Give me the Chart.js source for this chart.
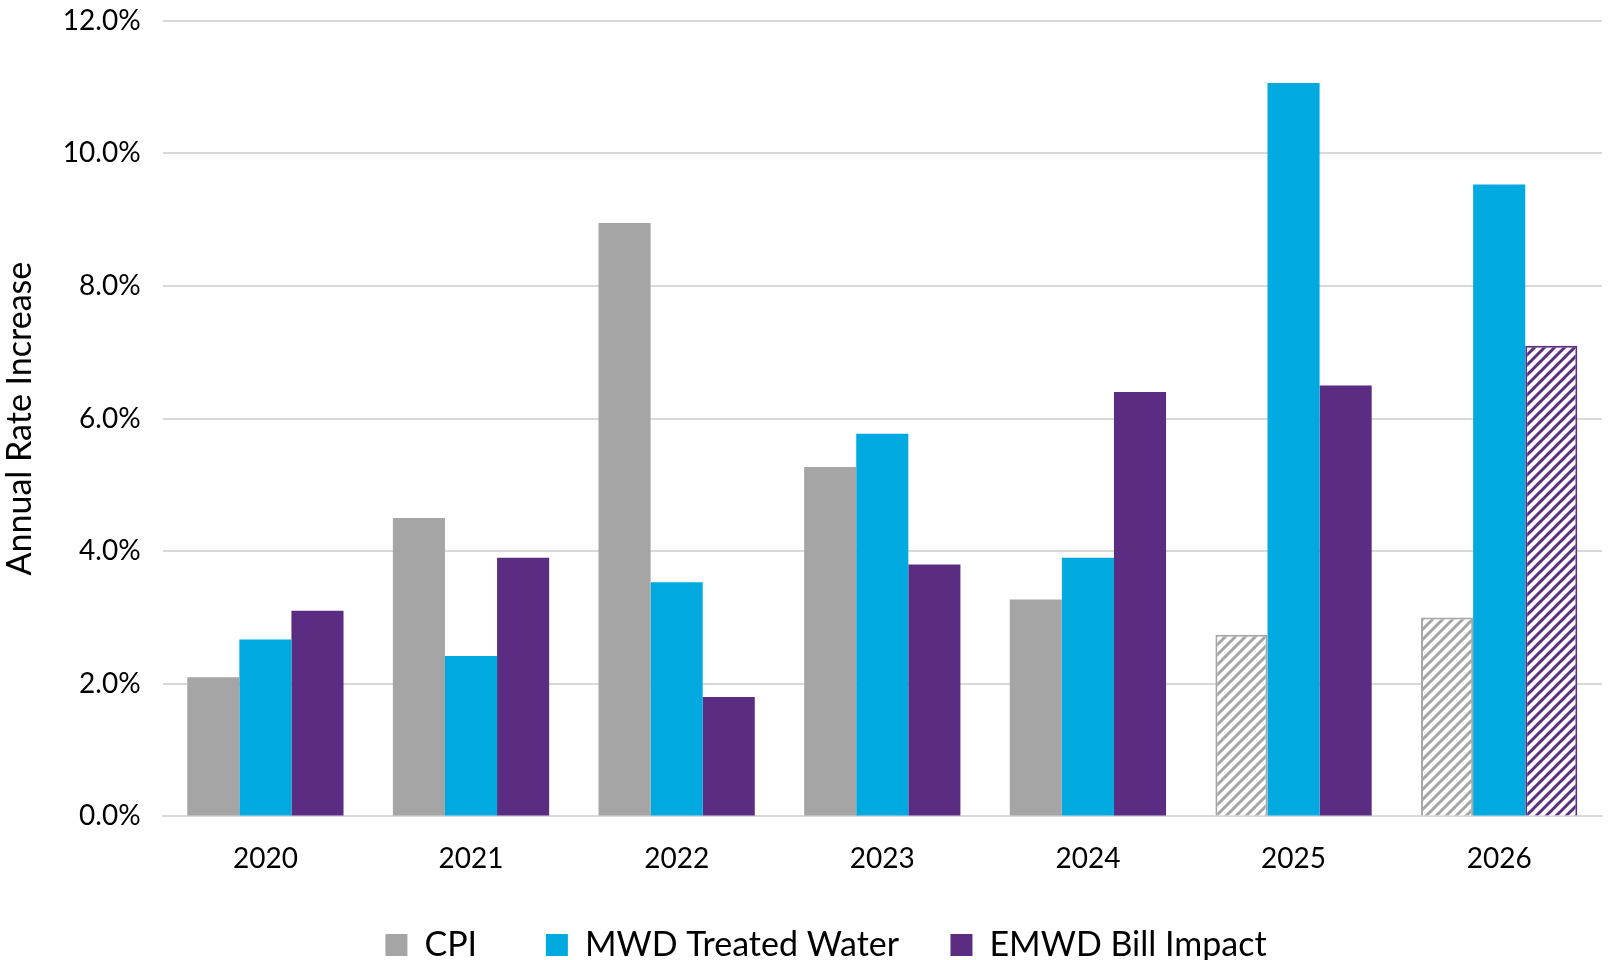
<!DOCTYPE html>
<html>
<head>
<meta charset="utf-8">
<script src="https://cdn.jsdelivr.net/npm/chart.js@4/dist/chart.umd.min.js"></script>
<style>
  html, body { margin: 0; padding: 0; background: #fff; overflow: hidden; }
  #wrap { width: 1608px; height: 982px; margin-top: -18px; }
</style>
</head>
<body>
<div id="wrap"><canvas id="rateChart"></canvas></div>
<script>
// Chart data
const years = ["2020", "2021", "2022", "2023", "2024", "2025", "2026"];
const cpi = [2.1, 4.5, 8.95, 5.27, 3.27, 2.74, 3.0];
const mwdTreated = [2.67, 2.42, 3.53, 5.77, 3.9, 11.06, 9.53];
const emwdBill = [3.1, 3.9, 1.8, 3.8, 6.4, 6.5, 7.1];
// projected values drawn hatched
const cpiProjected = [false, false, false, false, false, true, true];
const emwdProjected = [false, false, false, false, false, false, true];
const yTicks = [0, 2, 4, 6, 8, 10, 12];

const GRAY = "#A5A5A5";
const BLUE = "#00A9E0";
const PURPLE = "#5A2D82";

Chart.defaults.font.family = "Lato, 'Open Sans', sans-serif";
Chart.defaults.color = "#000";

// Diagonal hatch pattern
function makeHatch(color) {
  const size = 10;
  const c = document.createElement("canvas");
  c.width = size;
  c.height = size;
  const g = c.getContext("2d");
  g.fillStyle = "#fff";
  g.fillRect(0, 0, size, size);
  g.strokeStyle = color;
  g.lineWidth = 3;
  g.beginPath();
  g.moveTo(0, size); g.lineTo(size, 0);
  g.moveTo(-size / 2, size / 2); g.lineTo(size / 2, -size / 2);
  g.moveTo(size / 2, size * 1.5); g.lineTo(size * 1.5, size / 2);
  g.stroke();
  return g.createPattern(c, "repeat");
}

const grayHatch = makeHatch(GRAY);
const purpleHatch = makeHatch(PURPLE);

// nudge the legend a bit right so it sits centred on the page
const legendShift = {
  id: "legendShift",
  afterLayout(chart) {
    if (chart.legend) {
      chart.legend.left += 25;
      chart.legend.right += 25;
    }
  },
};

const ctx = document.getElementById("rateChart");
new Chart(ctx, {
  type: "bar",
  data: {
    labels: years,
    datasets: [
      {
        label: "CPI",
        data: cpi,
        backgroundColor: cpiProjected.map((p) => (p ? grayHatch : GRAY)),
        borderColor: GRAY,
        borderWidth: cpiProjected.map((p) => (p ? 2 : 0)),
      },
      {
        label: "MWD Treated Water",
        data: mwdTreated,
        backgroundColor: BLUE,
        borderWidth: 0,
      },
      {
        label: "EMWD Bill Impact",
        data: emwdBill,
        backgroundColor: emwdProjected.map((p) => (p ? purpleHatch : PURPLE)),
        borderColor: PURPLE,
        borderWidth: emwdProjected.map((p) => (p ? 2 : 0)),
      },
    ],
  },
  plugins: [legendShift],
  options: {
    responsive: true,
    maintainAspectRatio: false,
    animation: false,
    layout: { padding: { top: 0, right: 6, bottom: -8, left: 0 } },
    datasets: {
      bar: { categoryPercentage: 0.76, barPercentage: 1.0 },
    },
    plugins: {
      tooltip: { enabled: false },
      legend: {
        position: "bottom",
        labels: {
          font: { size: 34 },
          boxWidth: 22,
          boxHeight: 22,
          padding: 34,
          // trailing spaces widen the gaps between entries
          generateLabels: function () {
            return [
              { text: "CPI    ", fillStyle: GRAY, strokeStyle: GRAY, lineWidth: 0, datasetIndex: 0 },
              { text: "MWD Treated Water  ", fillStyle: BLUE, strokeStyle: BLUE, lineWidth: 0, datasetIndex: 1 },
              { text: "EMWD Bill Impact", fillStyle: PURPLE, strokeStyle: PURPLE, lineWidth: 0, datasetIndex: 2 },
            ];
          },
        },
      },
    },
    scales: {
      x: {
        grid: { display: false },
        border: { color: "#D9D9D9", width: 2 },
        ticks: { font: { size: 28 }, padding: 18 },
      },
      y: {
        min: 0,
        max: 12,
        afterBuildTicks: function (axis) {
          axis.ticks = yTicks.map((v) => ({ value: v }));
        },
        grid: { color: "#D9D9D9", lineWidth: 2, drawTicks: false },
        border: { display: false },
        ticks: {
          font: { size: 28 },
          padding: 22,
          callback: function (value) {
            return value.toFixed(1) + "%";
          },
        },
        title: {
          display: true,
          text: "Annual Rate Increase",
          font: { size: 34 },
          padding: { top: 0, bottom: 0 },
        },
      },
    },
  },
});
</script>
</body>
</html>
